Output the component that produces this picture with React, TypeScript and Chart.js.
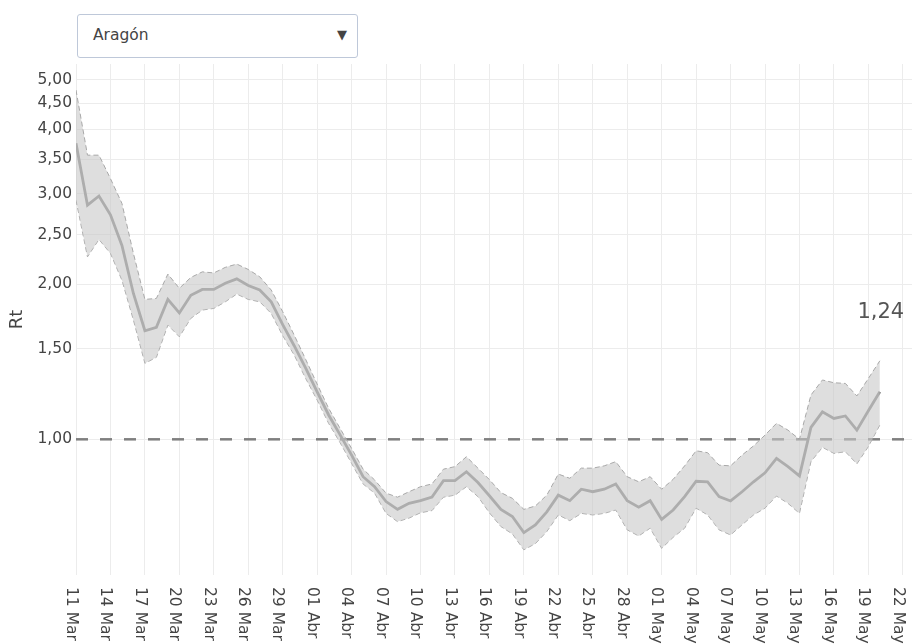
import React, { useEffect, useRef } from "react";
import { Chart, registerables } from "chart.js";

Chart.register(...registerables);

const region = "Aragón";
const dateLabels = [
  "11 Mar", "14 Mar", "17 Mar", "20 Mar", "23 Mar", "26 Mar", "29 Mar",
  "01 Abr", "04 Abr", "07 Abr", "10 Abr", "13 Abr", "16 Abr", "19 Abr",
  "22 Abr", "25 Abr", "28 Abr", "01 May", "04 May", "07 May", "10 May",
  "13 May", "16 May", "19 May", "22 May",
];
const tickDays = dateLabels.map((_, i) => i * 3);
const yTicks = [1, 1.5, 2, 2.5, 3, 3.5, 4, 4.5, 5];
const threshold = 1;

// days since 11 Mar: 0..70
const rtMean = [
  3.76, 2.85, 2.97, 2.73, 2.38, 1.92, 1.625, 1.65, 1.87, 1.76,
  1.905, 1.955, 1.955, 2.01, 2.05, 1.99, 1.95, 1.85, 1.67, 1.52,
  1.375, 1.237, 1.115, 1.02, 0.932, 0.846, 0.809, 0.757, 0.731, 0.751,
  0.76, 0.772, 0.831, 0.831, 0.865, 0.824, 0.777, 0.731, 0.708, 0.659,
  0.682, 0.723, 0.779, 0.76, 0.8, 0.791, 0.8, 0.819, 0.76, 0.738,
  0.76, 0.699, 0.729, 0.774, 0.829, 0.827, 0.774, 0.759, 0.791, 0.827,
  0.861, 0.918, 0.885, 0.849, 1.055, 1.131, 1.098, 1.11, 1.042, 1.136,
  1.237,
];
const rtUpper = [
  4.77, 3.565, 3.565, 3.21, 2.873, 2.297, 1.87, 1.878, 2.094, 1.965,
  2.063, 2.115, 2.105, 2.158, 2.19, 2.138, 2.069, 1.95, 1.77, 1.594,
  1.43, 1.28, 1.149, 1.05, 0.96, 0.875, 0.834, 0.786, 0.772, 0.791,
  0.809, 0.819, 0.875, 0.885, 0.925, 0.879, 0.835, 0.788, 0.768, 0.731,
  0.742, 0.779, 0.856, 0.84, 0.879, 0.879, 0.888, 0.905, 0.846, 0.827,
  0.846, 0.8, 0.836, 0.888, 0.95, 0.942, 0.891, 0.888, 0.932, 0.971,
  1.019, 1.074, 1.042, 1.0, 1.219, 1.304, 1.288, 1.284, 1.214, 1.313,
  1.421,
];
const rtLower = [
  2.915, 2.262, 2.445, 2.297, 2.038, 1.705, 1.405, 1.443, 1.667, 1.582,
  1.718, 1.783, 1.796, 1.85, 1.915, 1.87, 1.85, 1.756, 1.59, 1.458,
  1.313, 1.192, 1.074, 0.985, 0.898, 0.819, 0.786, 0.718, 0.692, 0.703,
  0.72, 0.727, 0.772, 0.779, 0.809, 0.774, 0.72, 0.677, 0.655, 0.61,
  0.627, 0.662, 0.713, 0.695, 0.718, 0.713, 0.718, 0.729, 0.667, 0.649,
  0.672, 0.614, 0.645, 0.672, 0.735, 0.713, 0.667, 0.652, 0.682, 0.713,
  0.735, 0.776, 0.751, 0.718, 0.905, 0.965, 0.939, 0.946, 0.896, 0.968,
  1.066,
];

const FONT = "'DejaVu Sans', Verdana, sans-serif";
const fmt = (v: number) => v.toFixed(2).replace(".", ",");

export default function App() {
  const ref = useRef<HTMLCanvasElement | null>(null);

  useEffect(() => {
    if (!ref.current) return;
    const toPts = (arr: number[]) => arr.map((y, i) => ({ x: i, y }));
    const xMax = 72.8;

    const labelsPlugin = {
      id: "extraText",
      afterDraw(chart: any) {
        const ctx = chart.ctx;
        const xs = chart.scales.x;
        const ys = chart.scales.y;
        ctx.save();
        ctx.fillStyle = "#444";
        ctx.font = `15.5px ${FONT}`;
        ctx.textAlign = "left";
        ctx.textBaseline = "alphabetic";
        tickDays.forEach((d, i) => {
          const px = xs.getPixelForValue(d);
          ctx.save();
          ctx.translate(px - 9.3, 587);
          ctx.rotate(Math.PI / 2);
          ctx.fillText(dateLabels[i], 0, 0);
          ctx.restore();
        });
        // last value annotation
        const last = rtMean.length - 1;
        const lx = xs.getPixelForValue(last);
        const ly = ys.getPixelForValue(rtMean[last]);
        ctx.font = `21px ${FONT}`;
        ctx.fillStyle = "#555";
        ctx.textAlign = "center";
        ctx.textBaseline = "middle";
        ctx.fillText(fmt(rtMean[last]), lx + 1, ly - 79);
        ctx.restore();
      },
    };

    const chart = new Chart(ref.current, {
      type: "line",
      data: {
        datasets: [
          {
            data: toPts(rtUpper),
            borderColor: "#a8a8a8",
            borderWidth: 1,
            borderDash: [5, 3],
            backgroundColor: "rgba(200,200,200,0.6)",
            fill: "+1",
            pointRadius: 0,
            tension: 0,
          },
          {
            data: toPts(rtLower),
            borderColor: "#a8a8a8",
            borderWidth: 1,
            borderDash: [5, 3],
            fill: false,
            pointRadius: 0,
            tension: 0,
          },
          {
            data: toPts(rtMean),
            borderColor: "#858585",
            borderWidth: 2.8,
            fill: false,
            pointRadius: 0,
            tension: 0,
          },
          {
            data: [
              { x: 0, y: threshold },
              { x: xMax, y: threshold },
            ],
            borderColor: "#7f7f7f",
            borderWidth: 2.5,
            borderDash: [12, 12],
            fill: false,
            pointRadius: 0,
          },
        ],
      },
      options: {
        responsive: false,
        animation: false,
        layout: { padding: { top: 64, left: 0, right: 0, bottom: 0 } },
        plugins: {
          legend: { display: false },
          tooltip: { enabled: false },
        },
        scales: {
          x: {
            type: "linear",
            min: 0,
            max: xMax,
            grid: { color: "#ececec", drawTicks: false },
            border: { display: false },
            ticks: { display: false },
            afterBuildTicks: (s: any) => {
              s.ticks = tickDays.map((v) => ({ value: v }));
            },
            afterFit: (s: any) => {
              s.height = 69;
            },
          },
          y: {
            type: "logarithmic",
            min: 0.545,
            max: 5.36,
            grid: { color: "#ececec", drawTicks: false },
            border: { display: false },
            ticks: {
              color: "#444",
              padding: 4,
              font: { family: FONT, size: 15.5 },
              callback: (v: any) => fmt(Number(v)),
            },
            title: {
              display: true,
              text: "Rt",
              color: "#444",
              font: { family: FONT, size: 18 },
              padding: { top: 7, bottom: 0 },
            },
            afterBuildTicks: (s: any) => {
              s.ticks = yTicks.map((v) => ({ value: v }));
            },
            afterFit: (s: any) => {
              s.width = 76;
            },
          },
        },
      },
      plugins: [labelsPlugin],
    } as any);
    return () => chart.destroy();
  }, []);

  return (
    <div style={{ position: "absolute", left: 0, top: 0, width: 912, height: 644, background: "#fff", overflow: "hidden" }}>
      <canvas ref={ref} width={912} height={644} style={{ display: "block", position: "absolute", left: 0, top: 0 }} />
      <div
        style={{
          position: "absolute",
          left: 77,
          top: 14,
          width: 281,
          height: 44,
          boxSizing: "border-box",
          border: "1px solid #bec8d9",
          borderRadius: 3,
          background: "#fff",
          fontFamily: FONT,
          fontSize: 15.5,
          color: "#444",
        }}
      >
        <span style={{ position: "absolute", left: 15, top: 10, lineHeight: "20px" }}>{region}</span>
        <span style={{ position: "absolute", left: 259, top: 11, fontSize: 13, lineHeight: "18px" }}>▼</span>
      </div>
    </div>
  );
}
